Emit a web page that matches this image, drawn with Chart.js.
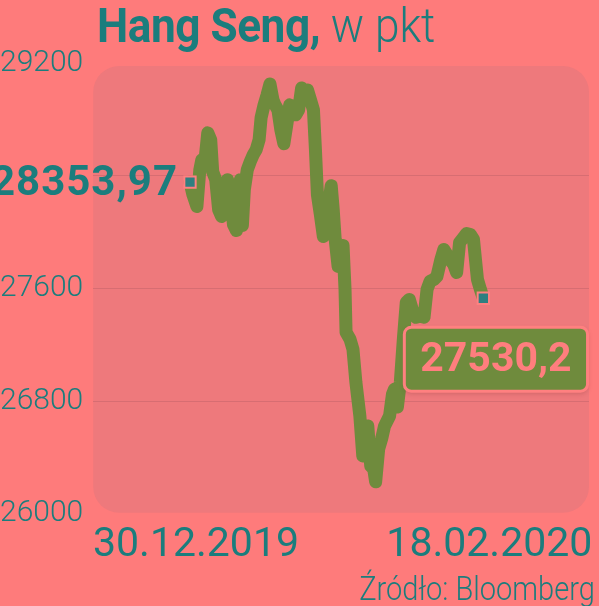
<!DOCTYPE html>
<html>
<head>
<meta charset="utf-8">
<script src="https://cdn.jsdelivr.net/npm/chart.js@4/dist/chart.umd.min.js"></script>
<style>
    html, body { margin: 0; padding: 0; background: #fe7b7b; }
    #wrap { position: relative; width: 599px; height: 606px; overflow: hidden; }
    #chart { position: absolute; left: 0; top: 0; }
    #title {
        position: absolute; left: 97px; top: 1px;
        font-family: Roboto, sans-serif; font-weight: 300;
        font-size: 48px; line-height: 50px; color: #1b7d7d; white-space: nowrap;
        transform: scaleX(0.92); transform-origin: left top;
    }
    #title b { font-weight: bold; letter-spacing: -0.5px; }
    #source {
        position: absolute; right: 4px; top: 571px;
        font-family: Roboto, sans-serif; font-weight: 300;
        font-size: 33px; line-height: 36px; color: #1b7d7d; white-space: nowrap;
        transform: scaleX(0.88); transform-origin: right top;
    }
</style>
</head>
<body>
<div id="wrap">
    <canvas id="chart" width="599" height="606"></canvas>
    <div id="title"><b>Hang Seng,</b> w pkt</div>
    <div id="source">Źródło: Bloomberg</div>
</div>
<script>
// trading sessions since 30.12.2019 (fractional = intraday)
const sessions = [0, 0.34, 0.80, 1.14, 1.37, 1.72, 2.06, 2.40, 2.63, 2.98,
    3.32, 3.66, 4.01, 4.35, 4.69, 5.04, 5.38, 5.61, 5.84, 6.07,
    6.30, 6.64, 6.98, 7.33, 7.67, 8.01, 8.24, 8.59, 8.93, 9.27,
    9.62, 9.85, 10.19, 10.53, 10.88, 11.22, 11.56, 11.91, 12.25, 12.59,
    12.94, 13.28, 13.62, 13.97, 14.31, 14.54, 14.77, 15.11, 15.46, 15.80,
    16.14, 16.37, 16.60, 16.83, 17.17, 17.52, 17.74, 17.97, 18.09, 18.55,
    18.89, 19.23, 19.69, 20.03, 20.38, 20.61, 20.95, 21.29, 21.52, 21.87,
    22.21, 22.55, 23.13, 23.47, 23.70, 24.04, 24.38, 24.73, 25.07, 25.42,
    25.76, 26.22, 26.67, 27.13, 27.48, 27.82, 28.28, 28.62, 29.08, 29.42,
    29.77, 30.11, 30.57, 30.91, 31.25, 31.71, 32.05, 32.51, 32.86, 33.09,
    33.32, 33.66, 34];

const hsiValues = [28353.97, 28265, 28181, 28442, 28513, 28499, 28704, 28655, 28428, 28372,
    28159, 28110, 28301, 28372, 28265, 28053, 28011, 28230, 28372, 28046,
    28301, 28442, 28499, 28549, 28584, 28655, 28811, 28903, 28973, 29051,
    28938, 28903, 28867, 28726, 28627, 28761, 28903, 28867, 28832, 28867,
    29023, 28973, 29009, 28938, 28867, 28584, 28265, 28124, 27968, 28053,
    28230, 28329, 28159, 27947, 27756, 27841, 27904, 27593, 27288, 27239,
    27168, 26934, 26694, 26411, 26531, 26623, 26340, 26319, 26227, 26460,
    26531, 26623, 26694, 26850, 26885, 26758, 26934, 27239, 27501, 27522,
    27451, 27395, 27402, 27395, 27593, 27650, 27664, 27685, 27805, 27876,
    27841, 27805, 27770, 27713, 27926, 27961, 27989, 27982, 27947, 27805,
    27664, 27593, 27530.2];

const dateLabels = ['30.12.2019', '18.02.2020'];
const yTicks = [26000, 26800, 27600, 28400, 29200];
const yTickLabels = ['26000', '26800', '27600', '', '29200'];

const teal = '#1b7d7d';
const lineGreen = '#6f8b3d';
const pink = '#ff8080';

function fmt(v) {
    return String(v).replace('.', ',');
}

const plotBg = {
    id: 'plotBg',
    beforeDraw(chart) {
        const { ctx, chartArea: a } = chart;
        ctx.save();
        ctx.fillStyle = '#ee797c';
        ctx.beginPath();
        ctx.roundRect(a.left, a.top + 3, a.right - a.left, a.bottom - a.top - 4, 26);
        ctx.fill();
        ctx.restore();
    }
};

const endLabels = {
    id: 'endLabels',
    afterDatasetsDraw(chart) {
        const ctx = chart.ctx;
        const pts = chart.getDatasetMeta(0).data;
        const first = pts[0];
        const last = pts[pts.length - 1];

        // first value, left of the start marker
        ctx.save();
        ctx.font = 'bold 42px Roboto';
        ctx.letterSpacing = '1px';
        ctx.fillStyle = teal;
        ctx.textAlign = 'right';
        ctx.textBaseline = 'middle';
        ctx.fillText(fmt(hsiValues[0]), first.x - 12, first.y + 2);
        ctx.restore();

        // last value in a box below the end marker
        const txt = fmt(hsiValues[hsiValues.length - 1]);
        ctx.save();
        ctx.font = 'bold 41px Roboto';
        const w = ctx.measureText(txt).width + 32;
        const h = 64;
        const bx = last.x - 79;
        const by = last.y + 29;
        ctx.shadowColor = 'rgba(90,30,30,0.25)';
        ctx.shadowBlur = 5;
        ctx.shadowOffsetY = 2;
        ctx.beginPath();
        ctx.roundRect(bx, by, w, h, 7);
        ctx.fillStyle = lineGreen;
        ctx.fill();
        ctx.shadowColor = 'transparent';
        ctx.lineWidth = 3;
        ctx.strokeStyle = pink;
        ctx.stroke();
        ctx.fillStyle = '#ff7e7e';
        ctx.textAlign = 'center';
        ctx.textBaseline = 'middle';
        ctx.fillText(txt, bx + w / 2, by + h / 2 + 2);
        ctx.restore();
    }
};

new Chart(document.getElementById('chart'), {
    type: 'line',
    data: {
        datasets: [{
            data: sessions.map((s, i) => ({ x: s, y: hsiValues[i] })),
            borderColor: lineGreen,
            borderWidth: 13,
            borderJoinStyle: 'round',
            borderCapStyle: 'round',
            tension: 0,
            pointStyle: 'rect',
            pointRadius: ctx => (ctx.dataIndex === 0 || ctx.dataIndex === hsiValues.length - 1) ? 8 : 0,
            pointBackgroundColor: '#2f7f80',
            pointBorderColor: pink,
            pointBorderWidth: 2,
            pointHoverRadius: 0
        }]
    },
    options: {
        responsive: false,
        animation: false,
        devicePixelRatio: 1,
        layout: { padding: { left: 0, right: 5, top: 63, bottom: 37 } },
        plugins: { legend: { display: false }, tooltip: { enabled: false } },
        scales: {
            x: {
                type: 'linear',
                min: -11.22,
                max: 46.25,
                afterBuildTicks: s => {
                    s.ticks = [sessions[0], sessions[sessions.length - 1]].map(v => ({ value: v }));
                },
                ticks: {
                    callback: (v, i) => dateLabels[i],
                    autoSkip: false,
                    maxRotation: 0,
                    padding: -1,
                    labelOffset: 6,
                    color: teal,
                    font: { family: 'Roboto', size: 41 }
                },
                grid: { display: false },
                border: { display: false }
            },
            y: {
                min: 26000,
                max: 29200,
                afterBuildTicks: s => {
                    s.ticks = yTicks.map(v => ({ value: v }));
                },
                ticks: {
                    callback: (v, i) => yTickLabels[i],
                    crossAlign: 'far',
                    padding: 5,
                    color: teal,
                    font: { family: 'Roboto', size: 30, weight: 300 }
                },
                grid: {
                    color: ctx => (ctx.index === 0 || ctx.index === yTicks.length - 1) ? 'transparent' : '#d76d72',
                    lineWidth: 1,
                    drawTicks: false
                },
                border: { display: false }
            }
        }
    },
    plugins: [plotBg, endLabels]
});
</script>
</body>
</html>
